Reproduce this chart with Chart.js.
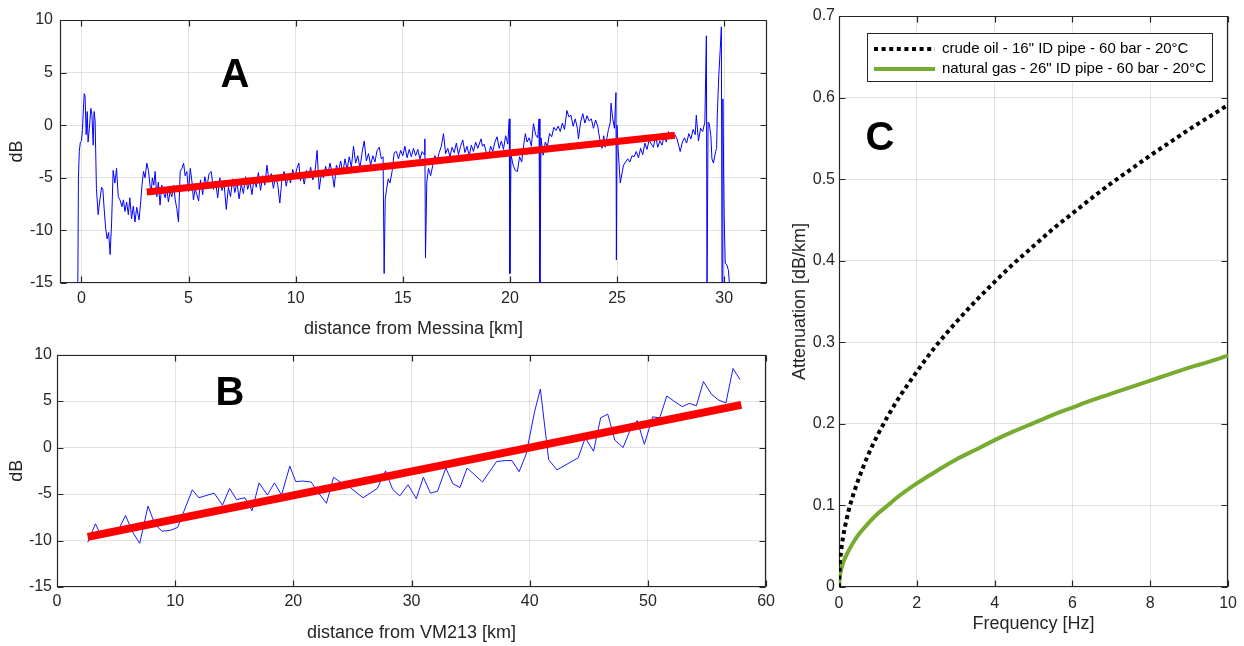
<!DOCTYPE html>
<html><head><meta charset="utf-8">
<script src="https://cdn.jsdelivr.net/npm/chart.js@4.4.1/dist/chart.umd.min.js"></script>
<style>
html,body{margin:0;padding:0;background:#fff;width:1244px;height:646px;overflow:hidden}
.panel{position:absolute}
canvas{display:block}
</style></head><body>
<div class="panel" style="left:0;top:0;width:780px;height:340px"><canvas id="cA" width="780" height="340"></canvas></div>
<div class="panel" style="left:0;top:340px;width:780px;height:306px"><canvas id="cB" width="780" height="306"></canvas></div>
<div class="panel" style="left:780px;top:0;width:464px;height:646px"><canvas id="cC" width="464" height="646"></canvas></div>
<script>
// ---------- Panel A data: [distance km, dB] ----------
const traceA = [
[-0.17,-16],[-0.14,-5],[-0.1,-2.5],[-0.05,-1.6],[0.0,-1.5],[0.05,-0.4],[0.08,1.0],[0.13,3.0],[0.17,2.8],[0.22,-0.9],
[0.27,1.3],[0.31,-1.6],[0.37,-0.3],[0.44,1.6],[0.49,1.0],[0.55,-1.9],[0.59,1.3],[0.64,0.4],[0.7,-6.0],[0.78,-8.5],
[0.86,-7.1],[0.94,-5.9],[1.0,-6.1],[1.06,-7.9],[1.13,-9.8],[1.2,-10.8],[1.27,-10.2],[1.34,-12.3],[1.41,-9.2],[1.48,-4.3],
[1.56,-5.5],[1.64,-4.1],[1.72,-6.8],[1.8,-7.1],[1.89,-7.75],[1.96,-7.1],[2.03,-8.2],[2.11,-7.3],[2.19,-8.5],[2.26,-6.9],
[2.34,-8.9],[2.42,-7.7],[2.5,-9.2],[2.58,-7.8],[2.69,-9.0],[2.77,-7.2],[2.84,-5.4],[2.9,-4.4],[2.97,-5.0],[3.05,-3.6],
[3.13,-4.3],[3.19,-5.5],[3.25,-6.6],[3.31,-5.0],[3.38,-5.7],[3.44,-4.4],[3.52,-6.8],[3.59,-5.4],[3.67,-7.6],[3.75,-5.7],
[3.83,-6.4],[3.91,-6.9],[3.98,-6.0],[4.06,-7.3],[4.14,-6.3],[4.22,-6.8],[4.3,-5.7],[4.38,-7.1],[4.45,-7.9],[4.53,-9.2],
[4.61,-4.4],[4.69,-4.1],[4.77,-3.6],[4.84,-4.8],[4.92,-4.4],[5.0,-6.3],[5.08,-4.1],[5.16,-5.4],[5.23,-7.1],[5.31,-6.0],
[5.39,-6.6],[5.47,-7.2],[5.56,-5.2],[5.66,-6.6],[5.76,-4.9],[5.86,-5.8],[5.96,-4.6],[6.06,-4.4],[6.16,-6.1],[6.26,-5.3],
[6.36,-6.9],[6.46,-5.0],[6.56,-6.2],[6.66,-5.6],[6.76,-8.0],[6.86,-5.9],[6.96,-6.8],[7.06,-5.1],[7.16,-6.4],[7.26,-5.4],
[7.36,-7.0],[7.46,-5.6],[7.56,-6.5],[7.66,-4.9],[7.76,-6.1],[7.86,-5.3],[7.96,-6.6],[8.06,-5.0],[8.16,-5.9],[8.26,-4.5],
[8.36,-6.2],[8.46,-4.8],[8.56,-5.7],[8.66,-3.8],[8.76,-5.4],[8.86,-4.6],[8.96,-6.0],[9.06,-4.9],[9.16,-5.6],[9.26,-7.4],
[9.36,-5.1],[9.46,-4.4],[9.56,-5.8],[9.66,-4.7],[9.76,-5.5],[9.86,-4.2],[9.96,-5.0],[10.06,-4.1],[10.15,-3.6],[10.22,-5.3],
[10.3,-4.6],[10.4,-5.6],[10.5,-4.3],[10.6,-4.9],[10.7,-4.0],[10.8,-5.2],[10.9,-4.5],[11.0,-2.4],[11.1,-6.1],[11.2,-4.6],
[11.3,-5.0],[11.4,-3.9],[11.5,-4.8],[11.6,-3.6],[11.7,-4.5],[11.8,-5.9],[11.9,-3.8],[12.0,-4.4],[12.1,-3.4],[12.2,-4.6],
[12.3,-3.2],[12.4,-4.2],[12.5,-3.0],[12.6,-4.0],[12.7,-2.0],[12.8,-3.6],[12.9,-2.9],[13.0,-4.1],[13.1,-2.6],[13.2,-1.5],
[13.3,-3.4],[13.4,-2.7],[13.5,-3.8],[13.6,-2.9],[13.7,-3.5],[13.8,-2.4],[13.9,-2.1],[14.0,-3.2],[14.08,-3.0],[14.13,-14.1],
[14.18,-7.0],[14.25,-6.0],[14.32,-5.1],[14.4,-5.5],[14.5,-4.4],[14.6,-2.6],[14.7,-2.5],[14.8,-3.2],[14.9,-2.4],[15.0,-2.9],
[15.1,-2.0],[15.2,-3.1],[15.3,-2.3],[15.4,-3.0],[15.5,-2.2],[15.6,-2.9],[15.7,-2.3],[15.8,-3.2],[15.9,-2.5],[16.0,-2.8],
[16.03,-1.3],[16.06,-12.6],[16.12,-5.4],[16.2,-4.1],[16.3,-4.8],[16.4,-3.8],[16.5,-2.9],[16.6,-3.4],[16.7,-2.6],[16.8,-2.0],
[16.9,-0.8],[17.0,-2.7],[17.1,-2.2],[17.2,-3.0],[17.3,-2.1],[17.4,-2.6],[17.5,-1.7],[17.6,-2.8],[17.7,-2.0],[17.8,-1.4],
[17.9,-2.6],[18.0,-2.0],[18.1,-2.9],[18.2,-1.9],[18.3,-2.5],[18.4,-1.6],[18.5,-2.2],[18.65,-1.3],[18.72,-2.0],[18.8,-1.8],
[18.9,-2.6],[19.0,-2.9],[19.1,-2.0],[19.2,-2.5],[19.3,-1.6],[19.4,-1.1],[19.5,-2.2],[19.6,-1.5],[19.7,-2.3],[19.8,-1.0],
[19.9,-1.8],[19.97,0.6],[20.0,-14.1],[20.05,-2.8],[20.15,-3.8],[20.25,-4.3],[20.35,-4.4],[20.45,-3.0],[20.55,-3.5],[20.65,-1.8],
[20.72,-0.8],[20.8,-1.6],[20.9,-1.2],[21.0,-2.0],[21.1,0.15],[21.2,-0.9],[21.3,-1.2],[21.36,0.6],[21.4,-16],[21.45,-1.2],
[21.55,-2.85],[21.65,-1.6],[21.75,-2.0],[21.85,-0.8],[21.95,-1.1],[22.05,-0.2],[22.15,-0.5],[22.25,-0.1],[22.35,-0.6],[22.45,0.2],
[22.55,-0.4],[22.66,1.4],[22.75,0.8],[22.85,0.95],[22.95,-0.1],[23.05,0.6],[23.15,-0.3],[23.2,-1.3],[23.3,0.3],[23.4,1.1],
[23.5,0.2],[23.6,0.9],[23.7,0.4],[23.8,0.6],[23.9,-0.3],[24.0,0.5],[24.1,-0.1],[24.15,-0.8],[24.22,-1.6],[24.3,-2.2],
[24.38,-1.0],[24.45,-2.1],[24.52,-1.3],[24.6,-0.4],[24.68,0.2],[24.72,2.1],[24.8,0.6],[24.88,-0.3],[24.95,3.1],[24.97,-12.8],
[25.0,0.0],[25.05,-2.2],[25.15,-5.5],[25.25,-4.4],[25.3,-3.8],[25.4,-3.5],[25.5,-3.2],[25.6,-3.5],[25.7,-2.9],[25.8,-3.0],
[25.9,-2.5],[26.0,-3.1],[26.1,-2.2],[26.2,-2.8],[26.3,-1.7],[26.4,-2.3],[26.5,-1.4],[26.6,-1.8],[26.7,-2.1],[26.8,-1.0],
[26.9,-2.1],[27.0,-1.5],[27.1,-1.9],[27.2,-1.0],[27.3,-1.6],[27.4,-0.6],[27.5,-1.3],[27.6,-1.0],[27.7,-0.9],[27.8,-1.3],
[27.95,-2.5],[28.05,-1.6],[28.15,-1.2],[28.25,-1.7],[28.35,-0.8],[28.45,-1.3],[28.55,-0.4],[28.65,-0.9],[28.7,0.95],[28.8,-1.5],
[28.9,-0.3],[29.0,-0.6],[29.1,0.3],[29.17,8.5],[29.2,-16],[29.25,0.3],[29.3,0.2],[29.38,-1.0],[29.43,-3.2],[29.5,-3.6],
[29.6,-2.5],[29.65,-2.2],[29.68,0.95],[29.75,4.75],[29.82,7.3],[29.87,9.35],[29.9,-16],[29.94,2.5],[30.0,-8.6],[30.05,-13.1],
[30.13,-13.3],[30.2,-13.8],[30.28,-16]
];
const fitA = [[3.05,-6.35],[27.7,-0.95]];
const ticksAx = [0,5,10,15,20,25,30];
const ticksAy = [-15,-10,-5,0,5,10];

// ---------- Panel B data ----------
const distB = [2.6,3.25,3.6,5.3,5.8,6.4,7.0,7.7,8.3,8.9,9.6,10.2,11.45,12.0,13.3,14.0,14.6,15.2,15.9,16.5,17.1,17.8,18.4,19.0,19.7,20.2,20.8,21.5,22.2,22.8,23.4,24.1,24.8,25.9,27.1,27.8,28.4,29.0,29.7,30.4,31.0,31.6,32.2,32.9,33.5,34.1,34.7,36.0,37.2,37.9,38.5,39.1,39.7,40.4,40.9,41.6,42.3,44.1,44.7,45.4,46.0,46.6,47.2,47.9,48.5,49.1,49.7,50.4,51.0,51.6,52.2,52.9,53.5,54.1,54.7,55.4,56.0,56.6,57.2,57.8];
const dbB   = [-10.2,-8.2,-9.1,-8.6,-7.3,-9.1,-10.3,-6.3,-8.3,-9.0,-8.9,-8.6,-4.55,-5.4,-4.9,-6.2,-4.4,-5.6,-5.4,-6.8,-3.8,-5.1,-3.8,-5.1,-2.0,-3.66,-3.6,-3.7,-5.0,-6.0,-3.2,-3.84,-4.3,-5.4,-4.4,-2.5,-4.5,-5.2,-4.0,-5.5,-3.2,-4.9,-4.7,-2.2,-3.9,-4.3,-2.2,-3.7,-1.5,-1.4,-1.4,-2.6,-0.7,3.8,6.3,-1.3,-2.4,-1.1,1.05,-0.4,3.2,3.6,0.8,0.0,1.9,2.9,0.35,3.3,3.2,5.55,5.0,4.4,4.75,4.5,7.1,5.7,5.1,4.8,8.5,7.3];
const fitB = [[2.6,-9.6],[57.9,4.6]];
const ticksBx = [0,10,20,30,40,50,60];
const ticksBy = [-15,-10,-5,0,5,10];

// ---------- Panel C data ----------
const freqC = [0,0.02,0.05,0.1,0.2,0.3,0.4,0.5,0.75,1,1.25,1.5,2,2.5,3,3.5,4,4.5,5,5.5,6,6.5,7,7.5,8,8.5,9,9.5,10];
const oilC  = [0,0.027,0.042,0.06,0.084,0.103,0.118,0.132,0.162,0.187,0.209,0.229,0.264,0.296,0.324,0.350,0.374,0.397,0.418,0.439,0.458,0.477,0.495,0.512,0.529,0.545,0.561,0.576,0.591];
const gasC  = [0,0.013,0.02,0.029,0.040,0.049,0.057,0.064,0.078,0.09,0.100,0.110,0.127,0.142,0.156,0.168,0.180,0.191,0.201,0.211,0.220,0.229,0.237,0.245,0.253,0.261,0.269,0.276,0.284];
const labelOil = 'crude oil - 16" ID pipe - 60 bar - 20°C';
const labelGas = 'natural gas - 26" ID pipe - 60 bar - 20°C';
const ticksCx = [0,2,4,6,8,10];
const ticksCy = [0,0.1,0.2,0.3,0.4,0.5,0.6,0.7];
const tickLabelsCy = ['0','0.1','0.2','0.3','0.4','0.5','0.6','0.7'];

// ---------- styling ----------
const TXT = '#262626';
const GRID = 'rgba(38,38,38,0.13)';
Chart.defaults.font.family = '"Liberation Sans", Arial, sans-serif';
Chart.defaults.color = TXT;

const boxPlugin = {
  id: 'mbox',
  beforeDatasetsDraw(chart) {
    const {ctx, chartArea: a, scales} = chart;
    ctx.save();
    ctx.strokeStyle = TXT; ctx.lineWidth = 1.2;
    const L = Math.round(a.left)+0.5, R = Math.round(a.right)-0.5, T = Math.round(a.top)+0.5, B = Math.round(a.bottom)-0.5;
    ctx.beginPath();
    ctx.rect(L, T, R-L, B-T);
    const tl = 6;
    scales.x.ticks.forEach(t => {
      const px = Math.round(scales.x.getPixelForValue(t.value)) + 0.5;
      ctx.moveTo(px, B); ctx.lineTo(px, B - tl);
      ctx.moveTo(px, T); ctx.lineTo(px, T + tl);
    });
    scales.y.ticks.forEach(t => {
      const py = Math.round(scales.y.getPixelForValue(t.value)) + 0.5;
      ctx.moveTo(L, py); ctx.lineTo(L + tl, py);
      ctx.moveTo(R, py); ctx.lineTo(R - tl, py);
    });
    ctx.stroke();
    ctx.restore();
  },
  afterDraw(chart, args, o) {
    if (!o || !o.letter) return;
    const ctx = chart.ctx;
    ctx.save();
    ctx.fillStyle = '#000';
    ctx.font = 'bold 40px "Liberation Sans", Arial, sans-serif';
    ctx.textAlign = 'center'; ctx.textBaseline = 'alphabetic';
    ctx.fillText(o.letter, o.x, o.y);
    ctx.restore();
  }
};

const legendPlugin = {
  id: 'boxLegend',
  afterDatasetsDraw(chart, args, o) {
    if (!o || !o.show) return;
    const ctx = chart.ctx;
    ctx.save();
    ctx.fillStyle = '#fff'; ctx.fillRect(o.x, o.y, o.w, o.h);
    ctx.strokeStyle = TXT; ctx.lineWidth = 1; ctx.strokeRect(o.x+0.5, o.y+0.5, o.w, o.h);
    chart.data.datasets.forEach((ds, i) => {
      const yy = o.y + o.row0 + i*o.rowH;
      ctx.strokeStyle = ds.borderColor; ctx.lineWidth = ds.borderWidth;
      ctx.setLineDash(ds.borderDash || []);
      ctx.beginPath(); ctx.moveTo(o.x+o.lx0, yy); ctx.lineTo(o.x+o.lx1, yy); ctx.stroke();
      ctx.setLineDash([]);
      ctx.fillStyle = '#000';
      ctx.font = '15px "Liberation Sans", Arial, sans-serif';
      ctx.textBaseline = 'middle'; ctx.textAlign = 'left';
      ctx.fillText(ds.label, o.x+o.tx, yy);
    });
    ctx.restore();
  }
};
Chart.register(boxPlugin, legendPlugin);

function xAxis(min, max, ticks, labels, title, h, tpad, titlePadBottom) {
  return {
    type: 'linear', min, max,
    afterBuildTicks: s => { s.ticks = ticks.map(v => ({value: v})); },
    afterFit: s => { s.height = h; },
    grid: {color: GRID, drawTicks: false, lineWidth: 1},
    border: {display: false},
    ticks: {font: {size: 16}, color: TXT, padding: tpad, maxRotation: 0, autoSkip: false,
      callback: (v, i) => labels[i]},
    title: {display: true, text: title, color: TXT, font: {size: 18}, padding: {top: 0, bottom: titlePadBottom}}
  };
}
function yAxis(min, max, ticks, labels, title, w, tpad, titlePadTop) {
  return {
    type: 'linear', min, max,
    afterBuildTicks: s => { s.ticks = ticks.map(v => ({value: v})); },
    afterFit: s => { s.width = w; },
    grid: {color: GRID, drawTicks: false, lineWidth: 1},
    border: {display: false},
    ticks: {font: {size: 16}, color: TXT, padding: tpad, autoSkip: false,
      callback: (v, i) => labels[i]},
    title: {display: true, text: title, color: TXT, font: {size: 18}, padding: {top: titlePadTop, bottom: 0}}
  };
}
const common = {responsive: false, animation: false, events: []};

// Panel A
new Chart(document.getElementById('cA'), {
  type: 'line',
  data: {datasets: [
    {label: 'fit', data: fitA.map(p => ({x: p[0], y: p[1]})), borderColor: '#ff0000', borderWidth: 7, pointRadius: 0, borderCapStyle: 'butt', order: 0},
    {label: 'signal', data: traceA.map(p => ({x: p[0], y: p[1]})), borderColor: '#0000ff', borderWidth: 1, pointRadius: 0, order: 1}
  ]},
  options: Object.assign({}, common, {
    layout: {padding: {left: 0, top: 20, right: 13, bottom: 0}},
    scales: {
      x: xAxis(-1, 32, ticksAx, ticksAx.map(String), 'distance from Messina [km]', 57, 6, 0),
      y: yAxis(-15, 10, ticksAy, ticksAy.map(String), 'dB', 60, 7, 6)
    },
    plugins: {legend: {display: false}, tooltip: {enabled: false}, mbox: {letter: 'A', x: 235, y: 87}}
  })
});

// Panel B
new Chart(document.getElementById('cB'), {
  type: 'line',
  data: {datasets: [
    {label: 'fit', data: fitB.map(p => ({x: p[0], y: p[1]})), borderColor: '#ff0000', borderWidth: 8, pointRadius: 0, borderCapStyle: 'butt', order: 0},
    {label: 'signal', data: distB.map((d, i) => ({x: d, y: dbB[i]})), borderColor: '#1a1aff', borderWidth: 1, pointRadius: 0, order: 1}
  ]},
  options: Object.assign({}, common, {
    layout: {padding: {left: 0, top: 11, right: 9, bottom: 0}},
    scales: {
      x: xAxis(0, 60, ticksBx, ticksBx.map(String), 'distance from VM213 [km]', 59, 5, 2),
      y: yAxis(-15, 10, ticksBy, ticksBy.map(String), 'dB', 57, 5, 6)
    },
    plugins: {legend: {display: false}, tooltip: {enabled: false}, mbox: {letter: 'B', x: 230, y: 405 - 340}}
  })
});

// Panel C
new Chart(document.getElementById('cC'), {
  type: 'line',
  data: {datasets: [
    {label: labelOil, data: freqC.map((f, i) => ({x: f, y: oilC[i]})), borderColor: '#000000', borderWidth: 4, borderDash: [4, 3.6], borderCapStyle: 'butt', pointRadius: 0, cubicInterpolationMode: 'monotone'},
    {label: labelGas, data: freqC.map((f, i) => ({x: f, y: gasC[i]})), borderColor: '#77ac30', borderWidth: 4, pointRadius: 0, cubicInterpolationMode: 'monotone'}
  ]},
  options: Object.assign({}, common, {
    layout: {padding: {left: 0, top: 16, right: 11, bottom: 0}},
    scales: {
      x: xAxis(0, 10, ticksCx, ticksCx.map(String), 'Frequency [Hz]', 59, 7, 11),
      y: yAxis(0, 0.7, ticksCy, tickLabelsCy, 'Attenuation [dB/km]', 59, 4, 9)
    },
    plugins: {legend: {display: false}, tooltip: {enabled: false},
      mbox: {letter: 'C', x: 100, y: 150},
      boxLegend: {show: true, x: 87, y: 33, w: 345, h: 48, row0: 16, rowH: 20, lx0: 7, lx1: 68, tx: 75}}
  })
});
</script>
</body></html>
